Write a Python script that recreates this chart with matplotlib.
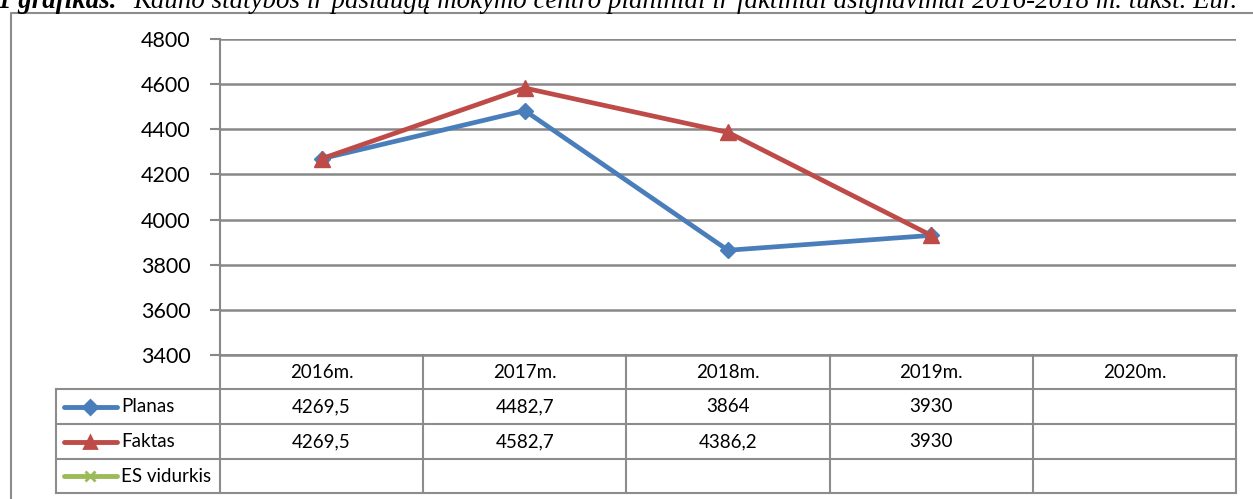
import matplotlib
matplotlib.use("Agg")
import matplotlib.pyplot as plt
from matplotlib.lines import Line2D

years = ["2016m.", "2017m.", "2018m.", "2019m.", "2020m."]
planas = [4269.5, 4482.7, 3864, 3930]
faktas = [4269.5, 4582.7, 4386.2, 3930]
planas_txt = ["4269,5", "4482,7", "3864", "3930", ""]
faktas_txt = ["4269,5", "4582,7", "4386,2", "3930", ""]
es_txt = ["", "", "", "", ""]
series_names = ["Planas", "Faktas", "ES vidurkis"]
y_ticks = [3400, 3600, 3800, 4000, 4200, 4400, 4600, 4800]

W, H = 1253, 499
blue = "#4A7EBB"
red = "#BE4B48"
green = "#9BBB59"
grid = "#888888"
font = "Lato"

fig = plt.figure(figsize=(W / 100, H / 100), dpi=100)

# overlay in pixel coordinates for border, table and title
ov = fig.add_axes([0, 0, 1, 1])
ov.set_xlim(0, W)
ov.set_ylim(H, 0)
ov.axis("off")

# outer chart border
ov.plot([11, 11, W + 5], [H + 5, 13, 13], color="#8c8c8c", lw=1.5)

# plot area
L, R, T, B = 220, 1236, 39, 355
ax = fig.add_axes([L / W, 1 - B / H, (R - L) / W, (B - T) / H])
x = [i + 0.5 for i in range(len(planas))]
ax.plot(x, planas, color=blue, lw=3.4, marker="D", ms=8, zorder=3)
ax.plot(x, faktas, color=red, lw=3.4, marker="^", ms=11, zorder=4)
ax.set_xlim(0, len(years))
ax.set_ylim(3400, 4800)
ax.set_yticks(y_ticks)
ax.set_yticklabels([str(v) for v in y_ticks], fontsize=15.5, family=font)
ax.set_xticks([])
ax.grid(axis="y", color=grid, lw=1.8)
ax.set_axisbelow(True)
for s in ["top", "right"]:
    ax.spines[s].set_visible(False)
ax.spines["left"].set_color(grid)
ax.spines["left"].set_linewidth(1.5)
ax.spines["bottom"].set_color(grid)
ax.spines["bottom"].set_linewidth(1.8)
ax.tick_params(axis="y", length=7, width=1.5, color=grid, pad=14)
ax.patch.set_alpha(0)

# data table
cols = [L + (R - L) * i / len(years) for i in range(len(years) + 1)]
rows = [B, 389, 424, 459, 493]
tc = "#8c8c8c"
for xc in cols:
    ov.plot([xc, xc], [B, rows[-1]], color=tc, lw=1.5)
for yr in rows[1:]:
    ov.plot([56, R], [yr, yr], color=tc, lw=1.5)
ov.plot([56, 56], [rows[1], rows[-1]], color=tc, lw=1.5)

for i, yl in enumerate(years):
    cx = (cols[i] + cols[i + 1]) / 2
    ov.text(cx, (rows[0] + rows[1]) / 2, yl, ha="center", va="center", fontsize=13.5, family=font)
    ov.text(cx, (rows[1] + rows[2]) / 2, planas_txt[i], ha="center", va="center", fontsize=13.5, family=font)
    ov.text(cx, (rows[2] + rows[3]) / 2, faktas_txt[i], ha="center", va="center", fontsize=13.5, family=font)
    ov.text(cx, (rows[3] + rows[4]) / 2, es_txt[i], ha="center", va="center", fontsize=13.5, family=font)

# legend keys inside table
keys = [(blue, "D", 7), (red, "^", 9), (green, "x", 7)]
for j, (c, m, ms) in enumerate(keys):
    yc = (rows[j + 1] + rows[j + 2]) / 2
    ov.add_line(Line2D([64, 117], [yc, yc], color=c, lw=3.5, solid_capstyle="round"))
    ov.add_line(Line2D([90], [yc], color=c, marker=m, ms=ms, mew=2))
    ov.text(121, yc, series_names[j], ha="left", va="center", fontsize=13.5, family=font)

# title, cut at the top of the image like in the source document
ov.text(-2, 8, "1 grafikas.", ha="left", va="baseline", fontsize=19.4,
        family="Liberation Serif", style="italic", weight="bold")
ov.text(133, 8, "Kauno statybos ir paslaugų mokymo centro planiniai ir faktiniai asignavimai 2016-2018 m. tūkst. Eur.",
        ha="left", va="baseline", fontsize=19.4, family="Liberation Serif", style="italic")

fig.savefig("out.png", dpi=100)
